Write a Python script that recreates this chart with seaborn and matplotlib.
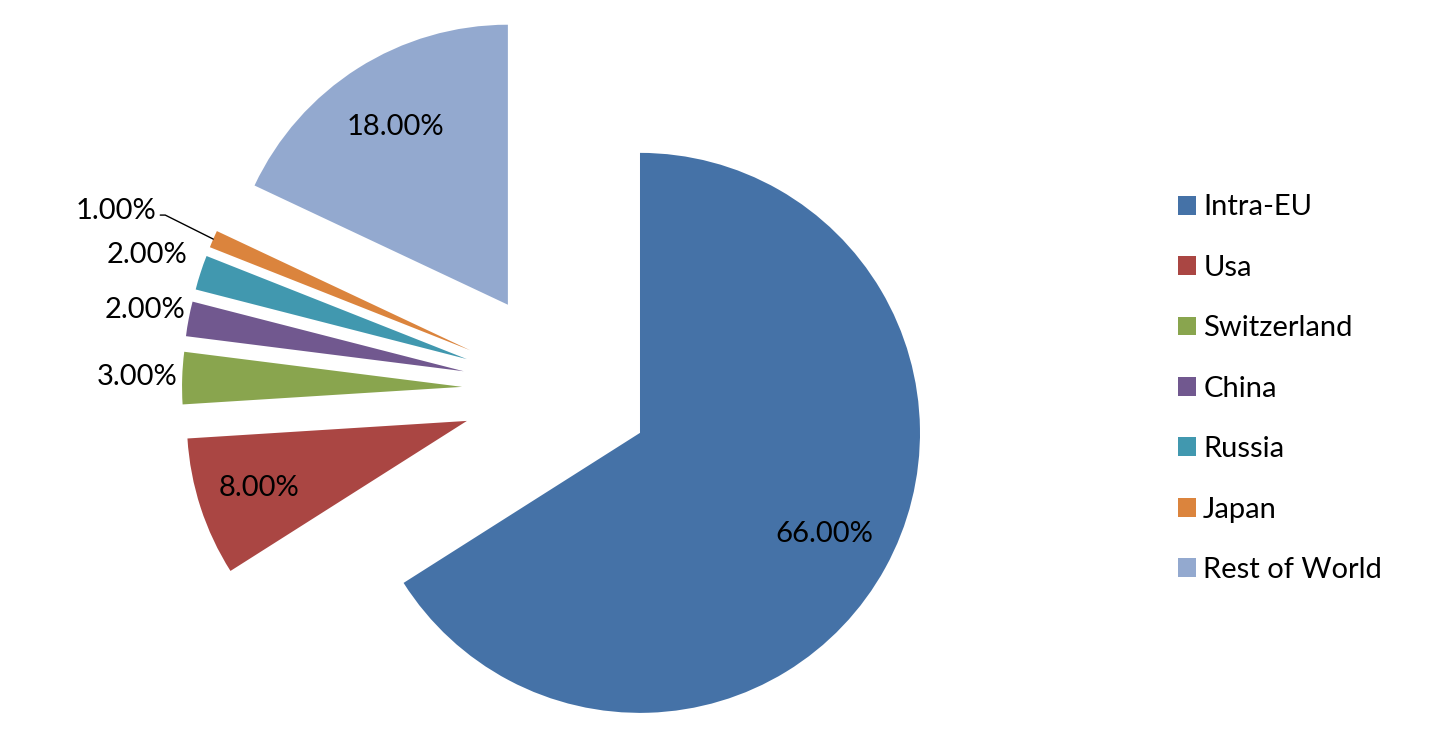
import numpy as np
import matplotlib
matplotlib.use("Agg")
import matplotlib.pyplot as plt
import seaborn as sns

regions = ["Intra-EU", "Usa", "Switzerland", "China", "Russia", "Japan", "Rest of World"]
shares = [66, 8, 3, 2, 2, 1, 18]
labels = ["66.00%", "8.00%", "3.00%", "2.00%", "2.00%", "1.00%", "18.00%"]
colors = ["#4572A7", "#AA4643", "#89A54E", "#71588F", "#4198AF", "#DB843D", "#93A9CF"]

sns.set_theme(style="white")
plt.rcParams["font.family"] = ["Lato", "DejaVu Sans"]
plt.rcParams["text.color"] = "black"

fig = plt.figure(figsize=(14.34, 7.41), dpi=100)
ax = fig.add_axes([0, 0, 1, 1])

R = 280
wedges, _ = ax.pie(shares, colors=sns.color_palette(colors), startangle=90,
                   counterclock=False, radius=R, center=(562, 351),
                   explode=[89, 100, 100, 100, 100, 100, 101],
                   wedgeprops=dict(linewidth=0), frame=True)

# label distance (fraction of radius) for each slice
dist = [0.75, 0.78, 1.16, 1.16, 1.2, None, 0.75]
for w, lab, d in zip(wedges, labels, dist):
    th = np.deg2rad((w.theta1 + w.theta2) / 2)
    cx, cy = w.center
    if d is None:
        ex, ey = cx + R * np.cos(th), cy + R * np.sin(th)
        tx, ty = ex - 55, ey + 24
        ax.plot([ex, ex - 48, tx + 2], [ey, ty, ty], color="black", lw=1)
        ax.text(tx - 2, ty + 4, lab, ha="right", va="center", fontsize=21)
    else:
        ax.text(cx + d * R * np.cos(th), cy + d * R * np.sin(th), lab,
                ha="center", va="center", fontsize=21)

ax.set_xlim(0, 1434)
ax.set_ylim(0, 741)
ax.set_aspect("equal")
ax.axis("off")

fig.legend(wedges, regions, loc="upper left", bbox_to_anchor=(0.803, 0.773),
           frameon=False, fontsize=21, labelspacing=1.18, handlelength=0.62,
           handleheight=0.62, handletextpad=0.25)

fig.savefig("out.png", dpi=100, facecolor="white")
